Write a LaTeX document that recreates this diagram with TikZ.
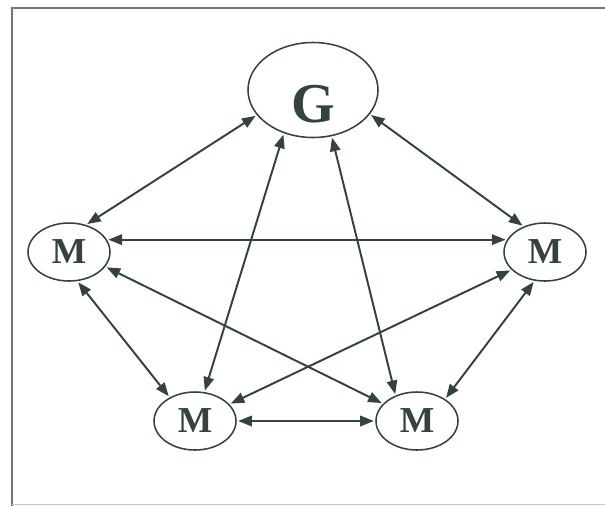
\documentclass[tikz,border=0pt]{standalone}
\usepackage{fontspec}
\setmainfont{Liberation Serif}
\usetikzlibrary{arrows.meta, shapes.geometric}
\definecolor{inkgreen}{HTML}{34443A}
\definecolor{framegray}{HTML}{6E7A74}

\begin{document}
\begin{tikzpicture}[x=0.25mm, y=-0.25mm,
    unit/.style={ellipse, draw=inkgreen, line width=1.1pt, inner sep=0pt, text=inkgreen},
    mnode/.style={unit, minimum width=20.5mm, minimum height=14.5mm, font=\fontsize{26}{28}\selectfont\bfseries},
    gnode/.style={unit, minimum width=32.5mm, minimum height=23.75mm},
    gtext/.style={text=inkgreen, font=\fontsize{40}{42}\selectfont\bfseries, yshift=-3.6mm},
    link/.style={{Triangle[length=3.4mm, width=2.6mm]}-{Triangle[length=3.4mm, width=2.6mm]}, draw=inkgreen, line width=1.4pt, shorten <=1pt, shorten >=1pt}]
    \useasboundingbox (0,0) rectangle (605,506);
    % frame
    \draw[framegray, line width=1.4pt] (605,8) -- (12,8) -- (12,506);
    \draw[framegray!40, line width=0.6pt] (12,504) -- (605,504);

    % nodes
    \node[gnode, label={[gtext]center:G}] (g) at (313,90) {};
    \node[mnode] (ml) at (69,252) {M};
    \node[mnode] (mr) at (545,252) {M};
    \node[mnode] (mbl) at (195,421) {M};
    \node[mnode] (mbr) at (417,421) {M};

    % links from G
    \draw[link] (g.204) -- (ml.58);
    \draw[link] (g.337) -- (mr.130);
    \draw[link] (g.236) -- (mbl.72);
    \draw[link] (g.292) -- (mbr.130);
    % links between M
    \draw[link] (ml.18) -- (mr.162);
    \draw[link] (ml.286) -- (mbl.137);
    \draw[link] (ml.338) -- (mbr.153);
    \draw[link] (mr.208) -- (mbl.26);
    \draw[link] (mr.250) -- (mbr.38);
    \draw[link] (mbl.east) -- (mbr.west);
\end{tikzpicture}
\end{document}
